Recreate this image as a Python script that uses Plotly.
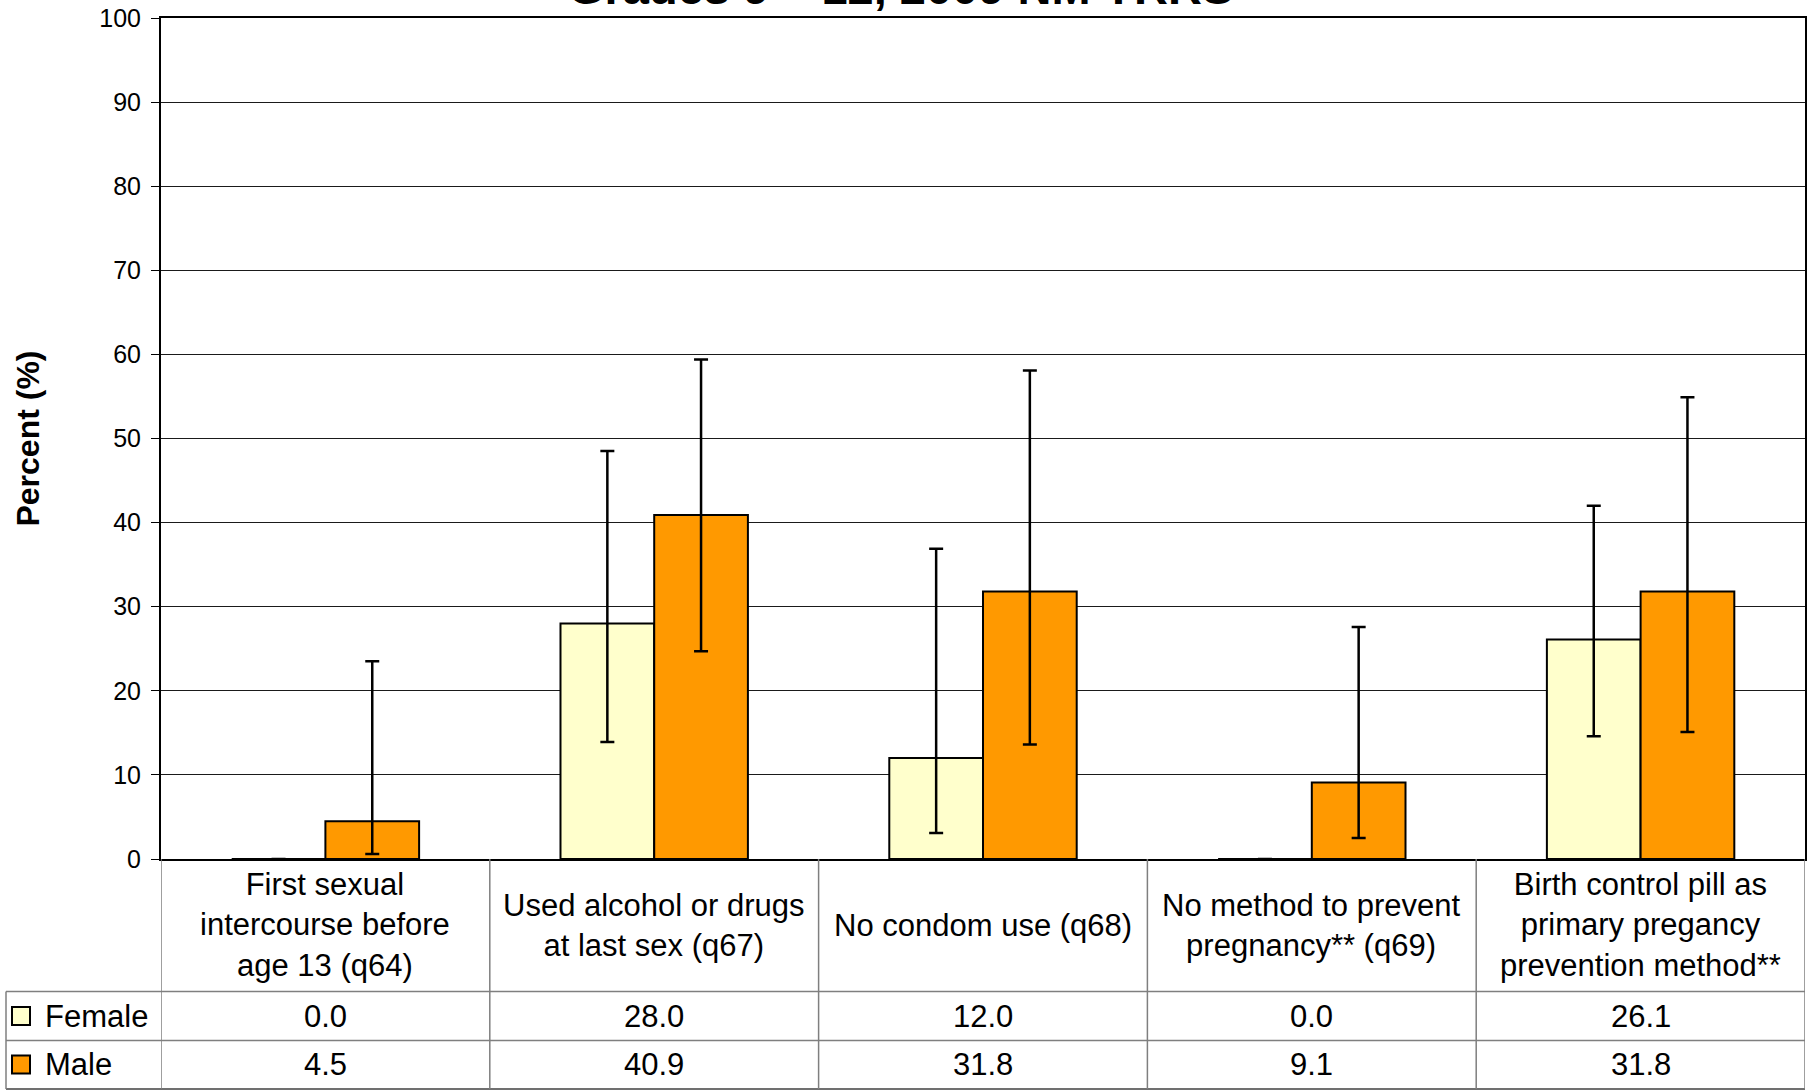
import plotly.graph_objects as go

# ---------------- data ----------------
categories = [
    "First sexual<br>intercourse before<br>age 13 (q64)",
    "Used alcohol or drugs<br>at last sex (q67)",
    "No condom use (q68)",
    "No method to prevent<br>pregnancy** (q69)",
    "Birth control pill as<br>primary pregancy<br>prevention method**",
]
series_names = ["Female", "Male"]
female_values = [0.0, 28.0, 12.0, 0.0, 26.1]
male_values = [4.5, 40.9, 31.8, 9.1, 31.8]
female_ci_upper = [0.0, 48.5, 36.9, 0.0, 42.0]
female_ci_lower = [0.0, 13.9, 3.1, 0.0, 14.6]
male_ci_upper = [23.5, 59.4, 58.1, 27.6, 54.9]
male_ci_lower = [0.6, 24.7, 13.6, 2.5, 15.1]
y_ticks = [0, 10, 20, 30, 40, 50, 60, 70, 80, 90, 100]
title_text = "Grades 9 – 12, 2009 NM YRRS"
y_title = "Percent (%)"

# ---------------- style ----------------
FONT = "Arial, Liberation Sans, sans-serif"
colors = {"Female": "#FFFFCC", "Male": "#FF9900"}
W, H = 1813, 1092
L, R, T, B = 161, 8, 17.5, 232.5
TABLE_LINE = "#7f7f7f"
TXT = 31

fig = go.Figure()
series = {
    "Female": (female_values, female_ci_upper, female_ci_lower),
    "Male": (male_values, male_ci_upper, male_ci_lower),
}
for name in series_names:
    vals, up, lo = series[name]
    fig.add_trace(go.Bar(
        x=categories, y=vals, name=name,
        marker=dict(color=colors[name], line=dict(color="black", width=2)),
        error_y=dict(type="data", symmetric=False,
                     array=[u - v for u, v in zip(up, vals)],
                     arrayminus=[v - l for v, l in zip(vals, lo)],
                     color="black", thickness=2.5, width=7),
        showlegend=False,
    ))

annotations = []
shapes = []

# title (top part clipped by page edge, as in reference)
annotations.append(dict(text="<b>" + title_text + "</b>", xref="paper", yref="paper",
                        x=0.45, y=1, xanchor="center", yanchor="bottom", yshift=2,
                        showarrow=False, font=dict(family=FONT, size=47, color="black")))

# category labels row
for c in categories:
    annotations.append(dict(text=c, xref="x", yref="paper", x=c, y=0, yshift=-66,
                            xanchor="center", yanchor="middle", showarrow=False,
                            align="center", font=dict(family=FONT, size=TXT, color="black")))

# data table rows
row_shift = {"Female": -157, "Male": -205.5}
for name in series_names:
    vals = series[name][0]
    for c, v in zip(categories, vals):
        annotations.append(dict(text=f"{v:.1f}", xref="x", yref="paper", x=c, y=0,
                                yshift=row_shift[name], xanchor="center", yanchor="middle",
                                showarrow=False, font=dict(family=FONT, size=TXT, color="black")))
    # legend label
    annotations.append(dict(text=name, xref="paper", yref="paper", x=0, y=0,
                            xshift=-118, yshift=row_shift[name], xanchor="left", yanchor="middle",
                            showarrow=False, font=dict(family=FONT, size=TXT, color="black")))
    # legend key square
    cy = row_shift[name]
    shapes.append(dict(type="rect", xref="paper", yref="paper", xsizemode="pixel",
                       ysizemode="pixel", xanchor=0, yanchor=0,
                       x0=-149, x1=-131, y0=cy - 9, y1=cy + 9,
                       fillcolor=colors[name], line=dict(color="black", width=2)))

# table grid lines (pixel offsets below the plot area)
n = len(categories)
row_lines = [-132.5, -181.5, -230]
for i, yl in enumerate(row_lines):
    shapes.append(dict(type="line", xref="paper", yref="paper", xsizemode="pixel",
                       ysizemode="pixel", xanchor=0, yanchor=0,
                       x0=-155, x1=1644, y0=yl, y1=yl,
                       line=dict(color=TABLE_LINE if i < 2 else "#404040", width=1.5)))
# vertical lines at category boundaries
for k in range(n + 1):
    shapes.append(dict(type="line", xref="x", yref="paper", ysizemode="pixel", yanchor=0,
                       x0=k - 0.5, x1=k - 0.5, y0=0, y1=-230,
                       line=dict(color=TABLE_LINE, width=1.5)))
# left edge of legend column
shapes.append(dict(type="line", xref="paper", yref="paper", xsizemode="pixel",
                   ysizemode="pixel", xanchor=0, yanchor=0,
                   x0=-155, x1=-155, y0=-132.5, y1=-230,
                   line=dict(color=TABLE_LINE, width=1.5)))

fig.update_layout(
    width=W, height=H,
    margin=dict(l=L, r=R, t=T, b=B, pad=0),
    paper_bgcolor="white", plot_bgcolor="white",
    barmode="group", bargap=0.43, bargroupgap=0,
    font=dict(family=FONT, color="black"),
    annotations=annotations, shapes=shapes,
    xaxis=dict(type="category", showticklabels=False, showgrid=False,
               showline=True, linecolor="black", linewidth=2, mirror=True,
               ticks="", range=[-0.5, n - 0.5], fixedrange=True, automargin=False),
    yaxis=dict(range=[0, 100], tickvals=y_ticks, ticks="outside", ticklen=8,
               tickcolor="black", tickwidth=1, automargin=False,
               tickfont=dict(family=FONT, size=25, color="black"),
               ticklabelstandoff=5,
               showgrid=True, gridcolor="#1a1a1a", gridwidth=1,
               showline=True, linecolor="black", linewidth=2, mirror=True,
               zeroline=False,
               title=dict(text="<b>" + y_title + "</b>", standoff=50,
                          font=dict(family=FONT, size=32, color="black"))),
)

fig.write_html("out.html", config={"displayModeBar": False},
               post_script="document.body.style.margin='0';")
